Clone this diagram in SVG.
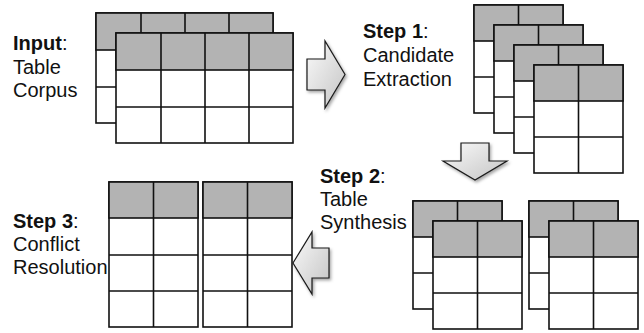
<svg xmlns="http://www.w3.org/2000/svg" xmlns:xlink="http://www.w3.org/1999/xlink" width="644" height="333" viewBox="0 0 644 333">
<style>
  .lbl { font-family: "Liberation Sans", Arial, sans-serif; font-size: 20px; fill: #111; }
  .b { font-weight: bold; }
  .cell { fill: #ffffff; stroke: #111; stroke-width: 1.6; }
  .hdr { fill: #b3b3b3; stroke: #111; stroke-width: 1.6; }
  .ln { stroke: #111; stroke-width: 1.6; fill: none; }
  .arr { fill: url(#ag); stroke: #1a1a1a; stroke-width: 1.2; stroke-linejoin: miter; filter: url(#sh); }
</style>
<defs>
  <linearGradient id="ag" x1="0" y1="0" x2="1" y2="1">
    <stop offset="0" stop-color="#fafafa"/>
    <stop offset="1" stop-color="#c4c4c4"/>
  </linearGradient>
  <filter id="sh" x="-30%" y="-30%" width="160%" height="160%">
    <feDropShadow dx="1.5" dy="2" stdDeviation="1.5" flood-color="#000" flood-opacity="0.35"/>
  </filter>
  <g id="t2">
    <rect class="cell" x="0" y="0" width="89" height="108"/>
    <rect class="hdr" x="0" y="0" width="89" height="36"/>
    <path class="ln" d="M0 72H89M44.5 0V108"/>
  </g>
  <g id="t4">
    <rect class="cell" x="0" y="0" width="177" height="110"/>
    <rect class="hdr" x="0" y="0" width="177" height="37"/>
    <path class="ln" d="M0 74H177M45 0V110M89 0V110M133 0V110"/>
  </g>
  <g id="t24">
    <rect class="cell" x="0" y="0" width="89" height="145"/>
    <rect class="hdr" x="0" y="0" width="89" height="36"/>
    <path class="ln" d="M0 73H89M0 109H89M44.5 0V145"/>
  </g>
</defs>
<rect x="0" y="0" width="644" height="333" fill="#ffffff"/>

<g id="input-label">
  <text class="lbl" x="13" y="50"><tspan class="b">Input</tspan>:</text>
  <text class="lbl" x="13" y="74">Table</text>
  <text class="lbl" x="13" y="97">Corpus</text>
</g>
<g id="input-tables">
  <use xlink:href="#t4" x="96" y="13"/>
  <use xlink:href="#t4" x="116" y="33"/>
</g>

<g id="step1-label">
  <text class="lbl" x="363" y="38"><tspan class="b">Step 1</tspan>:</text>
  <text class="lbl" x="363" y="62">Candidate</text>
  <text class="lbl" x="363" y="86">Extraction</text>
</g>
<g id="step1-tables">
  <use xlink:href="#t2" x="474" y="5"/>
  <use xlink:href="#t2" x="494" y="25"/>
  <use xlink:href="#t2" x="514" y="45"/>
  <use xlink:href="#t2" x="534" y="65"/>
</g>

<g id="step2-label">
  <text class="lbl" x="320" y="183"><tspan class="b">Step 2</tspan>:</text>
  <text class="lbl" x="320" y="206">Table</text>
  <text class="lbl" x="320" y="229">Synthesis</text>
</g>
<g id="step2-tables">
  <use xlink:href="#t2" x="413" y="201"/>
  <use xlink:href="#t2" x="433" y="221"/>
  <use xlink:href="#t2" x="529" y="201"/>
  <use xlink:href="#t2" x="549" y="221"/>
</g>

<g id="step3-label">
  <text class="lbl" x="13" y="228"><tspan class="b">Step 3</tspan>:</text>
  <text class="lbl" x="13" y="251">Conflict</text>
  <text class="lbl" x="13" y="274">Resolution</text>
</g>
<g id="step3-tables">
  <use xlink:href="#t24" x="109" y="182"/>
  <use xlink:href="#t24" x="203" y="182"/>
</g>

<g id="connectors">
  <path class="arr" d="M307 59H325V41L345 74.5L325 108V90H307Z"/>
  <path class="arr" d="M461 143H489V161H507L475 180L443 161H461Z"/>
  <path class="arr" d="M329 248H312V232L293 263L312 294V278H329Z"/>
</g>
</svg>
